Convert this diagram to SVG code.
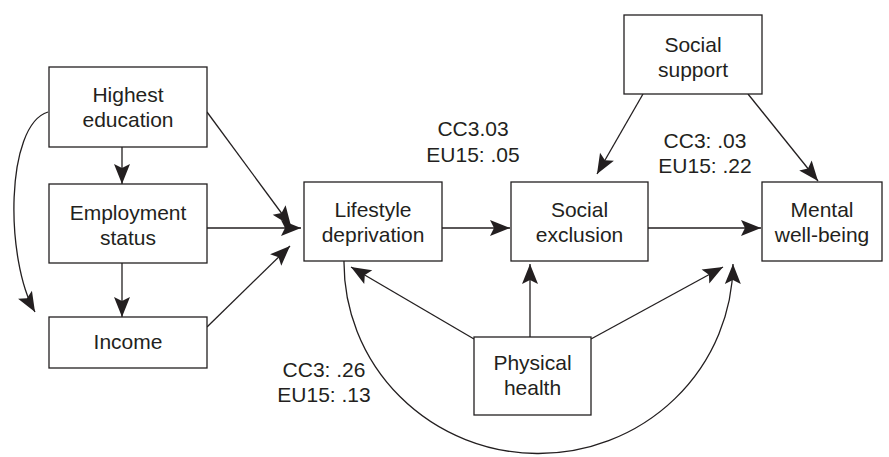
<svg xmlns="http://www.w3.org/2000/svg" width="889" height="457" viewBox="0 0 889 457">
<style>
.box{fill:#fff;stroke:#231f20;stroke-width:1.3}
.edge{fill:none;stroke:#231f20;stroke-width:1.3;marker-end:url(#ah)}
text{font-family:"Liberation Sans",Arial,sans-serif;font-size:21px;fill:#231f20;text-anchor:middle}
</style>
<defs>
<marker id="ah" markerUnits="userSpaceOnUse" markerWidth="21" markerHeight="17" refX="20" refY="8" orient="auto" overflow="visible">
<path d="M0,0 L20,8 L0,16 L4,8 z" fill="#231f20"/>
</marker>
</defs>
<rect width="889" height="457" fill="#fff"/>
<g id="connectors">
<path class="edge" d="M122,147 L122,184"/>
<path class="edge" d="M122,263 L122,317"/>
<path class="edge" d="M48,112 C5,125 5,260 35,312"/>
<path class="edge" d="M207,112 L291,226"/>
<path class="edge" d="M207,228 L301,228"/>
<path class="edge" d="M207,327 L290,246"/>
<path class="edge" d="M442,228 L510,228"/>
<path class="edge" d="M648,228 L761,228"/>
<path class="edge" d="M643,94 L597,174"/>
<path class="edge" d="M748,94 L818,181"/>
<path class="edge" d="M474,339 L351,267"/>
<path class="edge" d="M530,337 L530,264"/>
<path class="edge" d="M591,339 L723,267"/>
<path class="edge" d="M344,261 A194.5,191 0 0 0 733,264"/>
</g>
<g id="highest-education"><rect class="box" x="49" y="67" width="158" height="80"/><text x="128" y="102">Highest</text><text x="128" y="127">education</text></g>
<g id="employment-status"><rect class="box" x="49" y="184" width="158" height="79"/><text x="128" y="220">Employment</text><text x="128" y="245">status</text></g>
<g id="income"><rect class="box" x="49" y="317" width="158" height="51"/><text x="128" y="349">Income</text></g>
<g id="lifestyle-deprivation"><rect class="box" x="304" y="182" width="138" height="79"/><text x="373" y="217">Lifestyle</text><text x="373" y="242">deprivation</text></g>
<g id="social-exclusion"><rect class="box" x="511" y="182" width="137" height="79"/><text x="579.5" y="217">Social</text><text x="579.5" y="242">exclusion</text></g>
<g id="mental-well-being"><rect class="box" x="762" y="182" width="120" height="79"/><text x="822" y="217">Mental</text><text x="822" y="242">well-being</text></g>
<g id="social-support"><rect class="box" x="624" y="15" width="138" height="79"/><text x="693" y="52">Social</text><text x="693" y="77">support</text></g>
<g id="physical-health"><rect class="box" x="474" y="337" width="117" height="78"/><text x="532.5" y="370">Physical</text><text x="532.5" y="395">health</text></g>
<g id="labels">
<text x="473" y="136">CC3.03</text><text x="473" y="162">EU15: .05</text>
<text x="705" y="148">CC3: .03</text><text x="705" y="173">EU15: .22</text>
<text x="324" y="377">CC3: .26</text><text x="324" y="402">EU15: .13</text>
</g>
</svg>
